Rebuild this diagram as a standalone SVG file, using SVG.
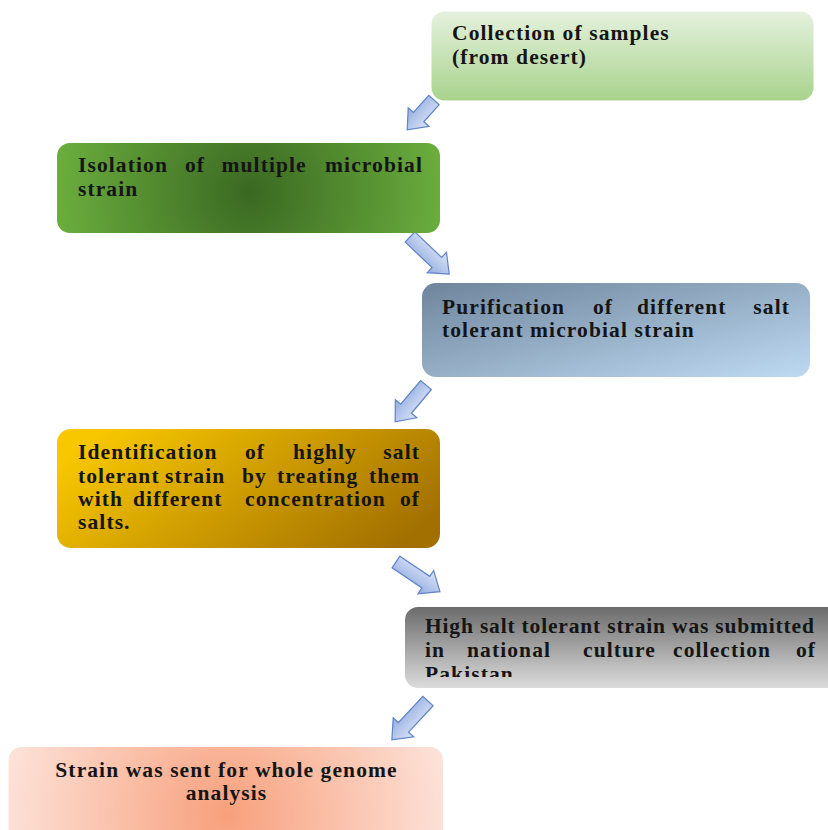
<svg xmlns="http://www.w3.org/2000/svg" width="828" height="830" viewBox="0 0 828 830">
<style>
  .t { font-family: "Liberation Serif", "Times New Roman", serif; font-weight: bold; font-size: 21.5px; letter-spacing: 1.1px; fill: #151515; }
  .e { text-anchor: end; }
  .arrow { fill: url(#gArrow); stroke: #5f82c8; stroke-width: 1.2; stroke-linejoin: miter; }
</style>
<defs>
  <linearGradient id="g1" x1="0" y1="0" x2="0" y2="1">
    <stop offset="0" stop-color="#e5f1de"/>
    <stop offset="1" stop-color="#a8d38c"/>
  </linearGradient>
  <radialGradient id="g2" gradientUnits="userSpaceOnUse" cx="250" cy="192" r="200">
    <stop offset="0" stop-color="#3a6922"/>
    <stop offset="1" stop-color="#6caf3e"/>
  </radialGradient>
  <linearGradient id="g3" x1="0" y1="0" x2="1" y2="1">
    <stop offset="0" stop-color="#6d849c"/>
    <stop offset="1" stop-color="#bedaf2"/>
  </linearGradient>
  <linearGradient id="g4" x1="0" y1="0.3" x2="1" y2="0.7">
    <stop offset="0" stop-color="#f8c700"/>
    <stop offset="1" stop-color="#a27000"/>
  </linearGradient>
  <linearGradient id="g5" x1="0" y1="0" x2="0" y2="1">
    <stop offset="0" stop-color="#6b6b6b"/>
    <stop offset="1" stop-color="#dcdcdc"/>
  </linearGradient>
  <radialGradient id="g6" gradientUnits="userSpaceOnUse" cx="226" cy="815" r="230">
    <stop offset="0" stop-color="#f7a07c"/>
    <stop offset="1" stop-color="#fde4db"/>
  </radialGradient>
  <linearGradient id="gArrow" x1="0" y1="0" x2="0" y2="1">
    <stop offset="0" stop-color="#dbe4f8"/>
    <stop offset="1" stop-color="#93addf"/>
  </linearGradient>
  <clipPath id="clip5"><rect x="405" y="607" width="423" height="70"/></clipPath>
</defs>

<g id="connectors">
  <path class="arrow" transform="translate(434,100) rotate(132)" d="M0,-7 H23 V-14 L40,0 L23,14 V7 H0 Z"/>
  <path class="arrow" transform="translate(410,237) rotate(43.5)" d="M0,-7 H37 V-14 L54,0 L37,14 V7 H0 Z"/>
  <path class="arrow" transform="translate(426,385) rotate(130)" d="M0,-7 H31 V-14 L48,0 L31,14 V7 H0 Z"/>
  <path class="arrow" transform="translate(396,562) rotate(34)" d="M0,-7 H36 V-14 L53,0 L36,14 V7 H0 Z"/>
  <path class="arrow" transform="translate(428,701) rotate(133)" d="M0,-7 H36 V-14 L53,0 L36,14 V7 H0 Z"/>
</g>

<g id="node1">
  <rect x="431.5" y="11.5" width="382" height="89" rx="13" fill="url(#g1)"/>
  <text class="t" x="452" y="40">Collection of samples</text>
  <text class="t" x="452" y="64">(from desert)</text>
</g>

<g id="node2">
  <rect x="57" y="143" width="383" height="90" rx="13" fill="url(#g2)"/>
  <text class="t" y="172"><tspan x="78">Isolation</tspan><tspan x="185">of</tspan><tspan x="221.5">multiple</tspan></text>
  <text class="t e" x="423" y="172">microbial</text>
  <text class="t" x="78" y="196">strain</text>
</g>

<g id="node3">
  <rect x="422" y="283" width="388" height="94" rx="14" fill="url(#g3)"/>
  <text class="t" y="314"><tspan x="442">Purification</tspan><tspan x="593">of</tspan><tspan x="637">different</tspan></text>
  <text class="t e" x="790" y="314">salt</text>
  <text class="t" x="442" y="337">tolerant microbial strain</text>
</g>

<g id="node4">
  <rect x="57" y="429" width="383" height="119" rx="14" fill="url(#g4)"/>
  <text class="t" y="459"><tspan x="78">Identification</tspan><tspan x="245">of</tspan><tspan x="293">highly</tspan></text>
  <text class="t e" x="420" y="459">salt</text>
  <text class="t" y="483"><tspan x="78">tolerant</tspan><tspan x="165">strain</tspan><tspan x="242">by</tspan><tspan x="277">treating</tspan></text>
  <text class="t e" x="420" y="483">them</text>
  <text class="t" y="506"><tspan x="78">with</tspan><tspan x="133">different</tspan><tspan x="245">concentration</tspan></text>
  <text class="t e" x="420" y="506">of</text>
  <text class="t" x="78" y="529">salts.</text>
</g>

<g id="node5">
  <rect x="405" y="607" width="440" height="81" rx="13" fill="url(#g5)"/>
  <g clip-path="url(#clip5)">
    <text class="t" x="425" y="633" textLength="390" lengthAdjust="spacing">High salt tolerant strain was submitted</text>
    <text class="t" y="657"><tspan x="425">in</tspan><tspan x="467">national</tspan><tspan x="583">culture</tspan><tspan x="673">collection</tspan></text>
    <text class="t e" x="816" y="657">of</text>
    <text class="t" x="425" y="681">Pakistan</text>
  </g>
</g>

<g id="node6">
  <rect x="8.5" y="747" width="434.5" height="100" rx="13" fill="url(#g6)"/>
  <text class="t" x="226.5" y="777" text-anchor="middle">Strain was sent for whole genome</text>
  <text class="t" x="226.5" y="800" text-anchor="middle">analysis</text>
</g>
</svg>
